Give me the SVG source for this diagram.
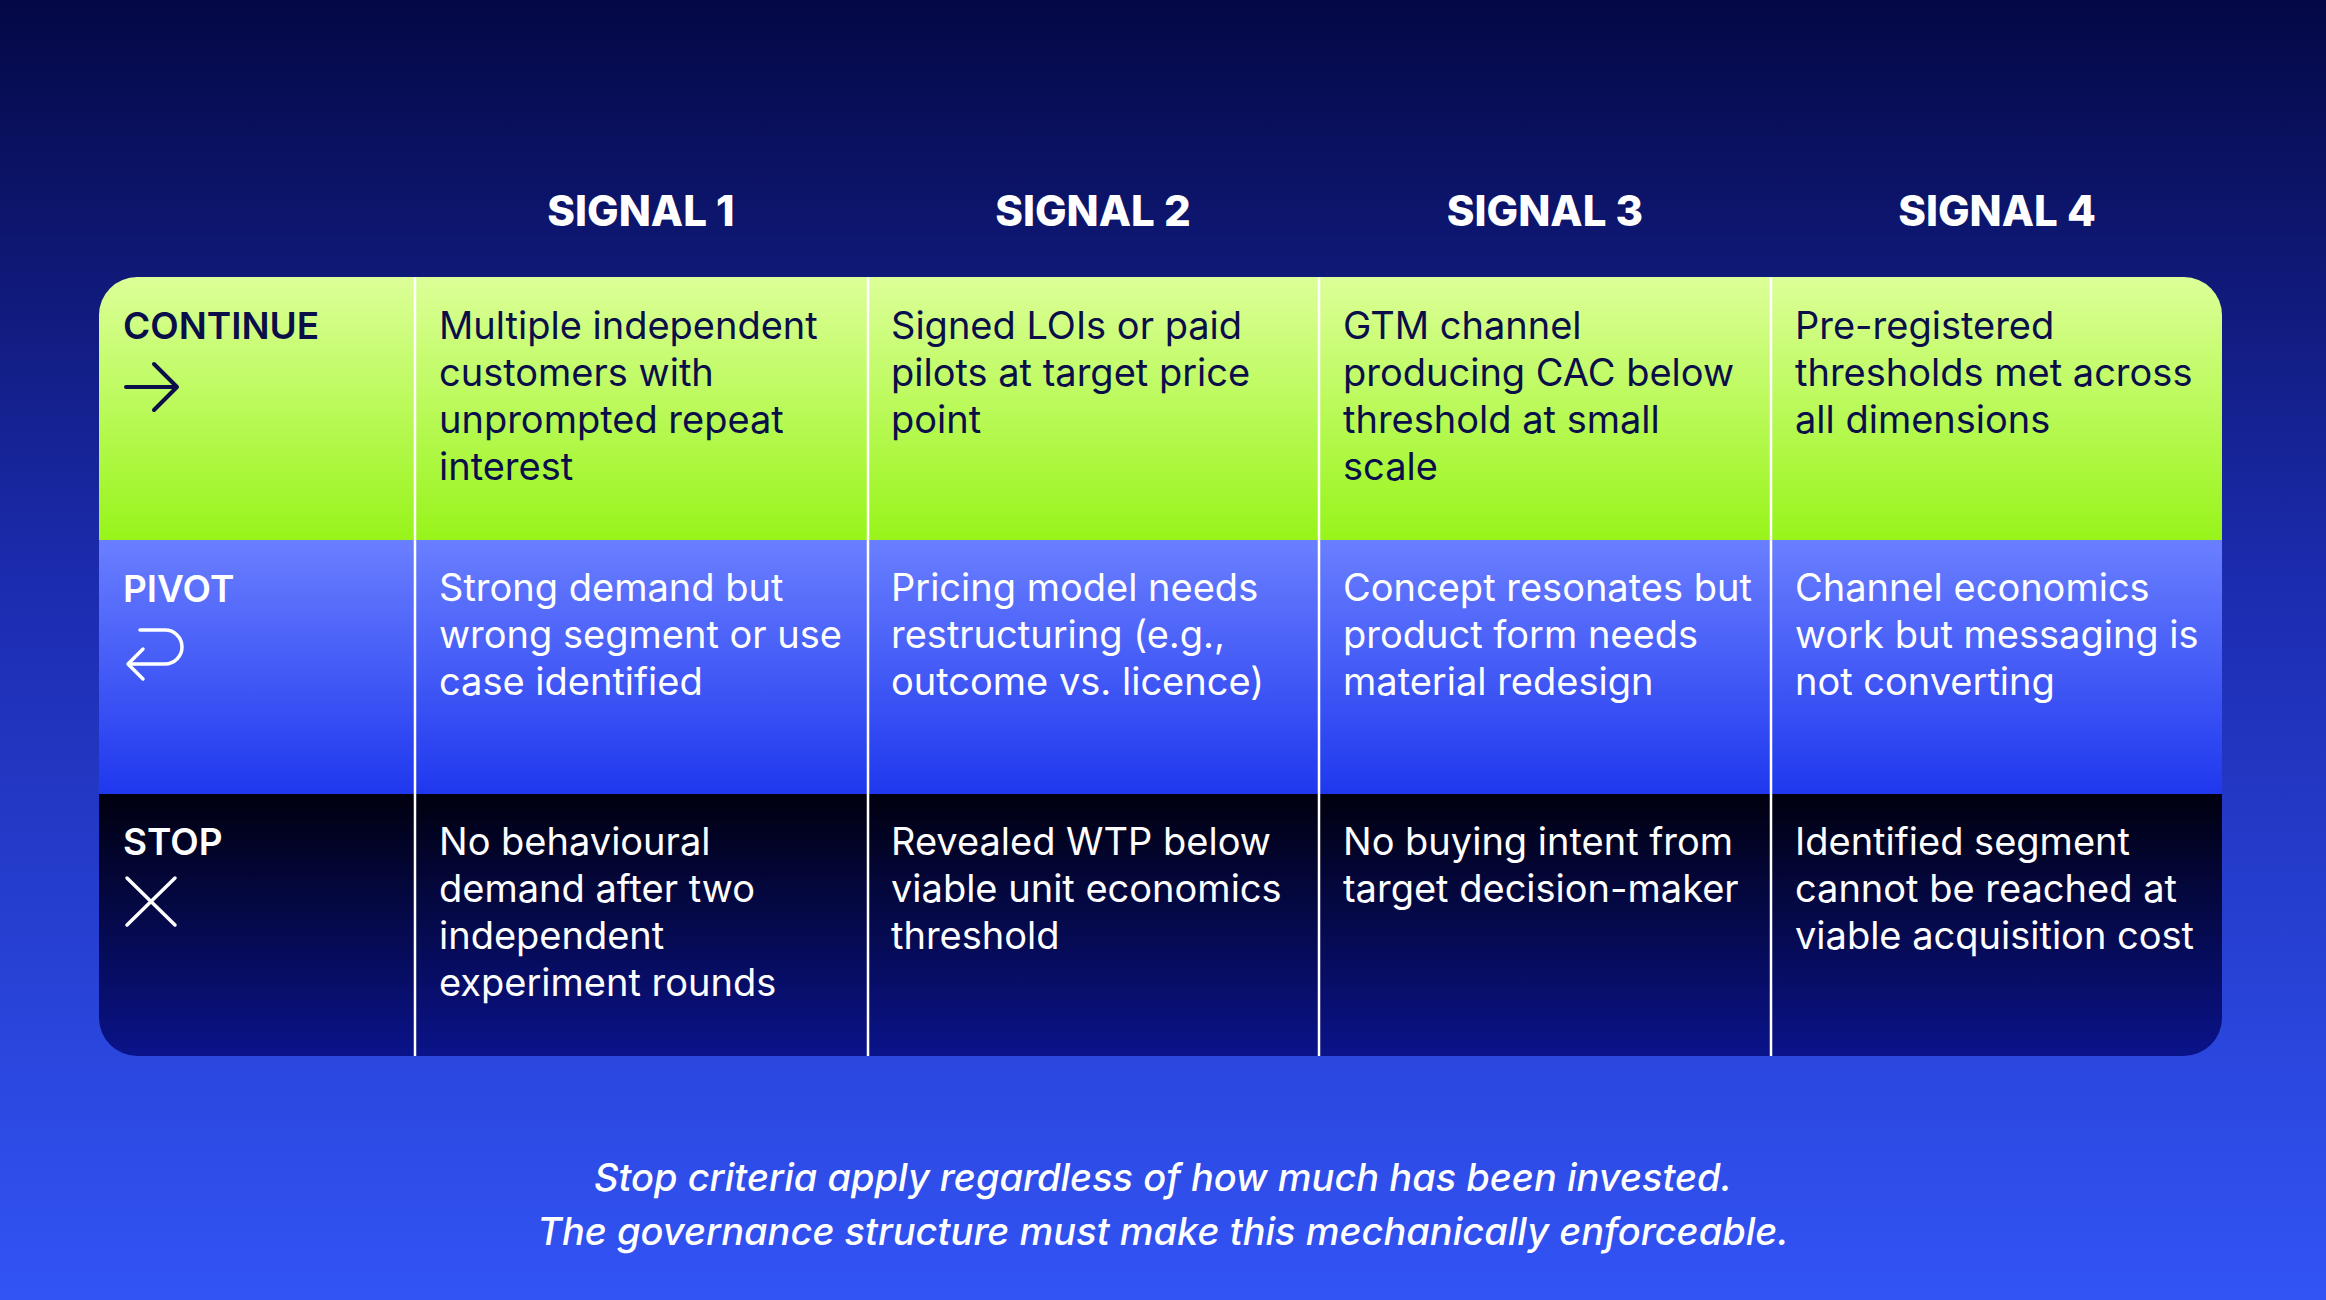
<svg xmlns="http://www.w3.org/2000/svg" width="2326" height="1300" viewBox="0 0 2326 1300">
<defs>
<linearGradient id="bg" x1="0" y1="0" x2="0" y2="1"><stop offset="0" stop-color="#040845"/><stop offset="0.45" stop-color="#1c2cb0"/><stop offset="1" stop-color="#3254f5"/></linearGradient>
<linearGradient id="gc" x1="0" y1="0" x2="0" y2="1"><stop offset="0" stop-color="#dcff98"/><stop offset="1" stop-color="#98f41a"/></linearGradient>
<linearGradient id="gp" x1="0" y1="0" x2="0" y2="1"><stop offset="0" stop-color="#6a7fff"/><stop offset="1" stop-color="#1f38ee"/></linearGradient>
<linearGradient id="gs" x1="0" y1="0" x2="0" y2="1"><stop offset="0" stop-color="#00000f"/><stop offset="1" stop-color="#0a138a"/></linearGradient>
<clipPath id="tc"><rect x="99" y="277" width="2123" height="779" rx="38"/></clipPath>
</defs>
<style>
.h{font-family:Inter,"Liberation Sans",sans-serif;font-weight:800;font-size:42px;fill:#fff;text-anchor:middle}
.l{font-family:Inter,"Liberation Sans",sans-serif;font-weight:600;font-size:37px}
.t{font-family:Inter,"Liberation Sans",sans-serif;font-size:38px}
.dk{fill:#0a0f4a}.wt{fill:#fff}
.f{font-family:Inter,"Liberation Sans",sans-serif;font-style:italic;font-weight:500;font-size:38px;fill:#fff;text-anchor:middle}
.div{stroke:#fff;stroke-width:2.5}
</style>
<rect width="2326" height="1300" fill="url(#bg)"/>
<g id="headers">
<text class="h" x="641" y="226">SIGNAL 1</text>
<text class="h" x="1093" y="226">SIGNAL 2</text>
<text class="h" x="1545" y="226">SIGNAL 3</text>
<text class="h" x="1997" y="226">SIGNAL 4</text>
</g>
<g clip-path="url(#tc)">
<rect x="99" y="277" width="2123" height="263" fill="url(#gc)"/>
<rect x="99" y="540" width="2123" height="254" fill="url(#gp)"/>
<rect x="99" y="794" width="2123" height="262" fill="url(#gs)"/>
</g>
<g id="connectors">
<line class="div" x1="415" y1="277" x2="415" y2="1056"/>
<line class="div" x1="868" y1="277" x2="868" y2="1056"/>
<line class="div" x1="1319" y1="277" x2="1319" y2="1056"/>
<line class="div" x1="1771" y1="277" x2="1771" y2="1056"/>
</g>
<g id="continue">
<text class="l dk" x="123" y="339">CONTINUE</text>
<path d="M126 387 H177 M154 364 L177 387 L154 410" fill="none" stroke="#0a0f4a" stroke-width="4" stroke-linecap="round" stroke-linejoin="round"/>
<text class="t dk" x="439" y="339"><tspan x="439">Multiple independent</tspan><tspan x="439" dy="47">customers with</tspan><tspan x="439" dy="47">unprompted repeat</tspan><tspan x="439" dy="47">interest</tspan></text>
<text class="t dk" x="891" y="339"><tspan x="891">Signed LOIs or paid</tspan><tspan x="891" dy="47">pilots at target price</tspan><tspan x="891" dy="47">point</tspan></text>
<text class="t dk" x="1343" y="339"><tspan x="1343">GTM channel</tspan><tspan x="1343" dy="47">producing CAC below</tspan><tspan x="1343" dy="47">threshold at small</tspan><tspan x="1343" dy="47">scale</tspan></text>
<text class="t dk" x="1795" y="339"><tspan x="1795">Pre-registered</tspan><tspan x="1795" dy="47">thresholds met across</tspan><tspan x="1795" dy="47">all dimensions</tspan></text>
</g>
<g id="pivot">
<text class="l wt" x="123" y="602">PIVOT</text>
<path d="M140 630 H165 A17 17 0 0 1 165 664 H128 M143 649 L128 664 L143 679" fill="none" stroke="#fff" stroke-width="3.5" stroke-linecap="round" stroke-linejoin="round"/>
<text class="t wt" x="439" y="601"><tspan x="439">Strong demand but</tspan><tspan x="439" dy="47">wrong segment or use</tspan><tspan x="439" dy="47">case identified</tspan></text>
<text class="t wt" x="891" y="601"><tspan x="891">Pricing model needs</tspan><tspan x="891" dy="47">restructuring (e.g.,</tspan><tspan x="891" dy="47">outcome vs. licence)</tspan></text>
<text class="t wt" x="1343" y="601"><tspan x="1343">Concept resonates but</tspan><tspan x="1343" dy="47">product form needs</tspan><tspan x="1343" dy="47">material redesign</tspan></text>
<text class="t wt" x="1795" y="601"><tspan x="1795">Channel economics</tspan><tspan x="1795" dy="47">work but messaging is</tspan><tspan x="1795" dy="47">not converting</tspan></text>
</g>
<g id="stop">
<text class="l wt" x="123" y="855">STOP</text>
<path d="M127 878 L175 925 M175 878 L127 925" stroke="#fff" stroke-width="3.5" stroke-linecap="round"/>
<text class="t wt" x="439" y="855"><tspan x="439">No behavioural</tspan><tspan x="439" dy="47">demand after two</tspan><tspan x="439" dy="47">independent</tspan><tspan x="439" dy="47">experiment rounds</tspan></text>
<text class="t wt" x="891" y="855"><tspan x="891">Revealed WTP below</tspan><tspan x="891" dy="47">viable unit economics</tspan><tspan x="891" dy="47">threshold</tspan></text>
<text class="t wt" x="1343" y="855"><tspan x="1343">No buying intent from</tspan><tspan x="1343" dy="47">target decision-maker</tspan></text>
<text class="t wt" x="1795" y="855"><tspan x="1795">Identified segment</tspan><tspan x="1795" dy="47">cannot be reached at</tspan><tspan x="1795" dy="47">viable acquisition cost</tspan></text>
</g>
<g id="footer">
<text class="f" x="1163" y="1191">Stop criteria apply regardless of how much has been invested.</text>
<text class="f" x="1163" y="1245">The governance structure must make this mechanically enforceable.</text>
</g>
</svg>
